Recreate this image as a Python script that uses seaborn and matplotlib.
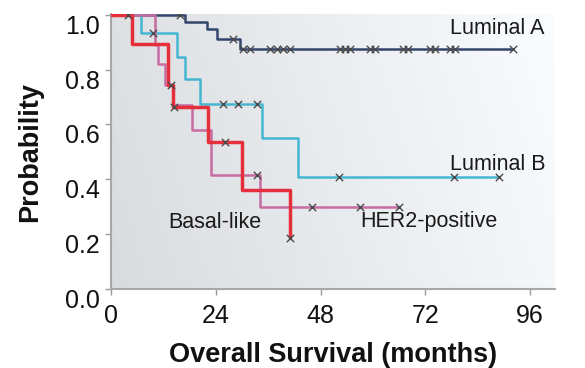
import numpy as np
import pandas as pd
import matplotlib
matplotlib.use("Agg")
import matplotlib.pyplot as plt
import seaborn as sns

# ---- data ----
groups = ["Luminal A", "Luminal B", "HER2-positive", "Basal-like"]

lumA_times = [0, 17.0, 22.0, 24.3, 29.5]
lumA_surv = [1.0, 0.975, 0.95, 0.91, 0.875]
lumA_end = 92.1
lumA_censor = [15.8, 28.0, 30.2, 31.8, 36.4, 38.0, 39.4, 41.0, 52.5, 53.6, 54.8,
               59.3, 60.5, 66.9, 68.0, 73.1, 74.2, 77.7, 78.8, 92.1]

lumB_times = [0, 6.9, 15.1, 17.0, 20.4, 34.6, 42.8]
lumB_surv = [1.0, 0.935, 0.845, 0.767, 0.676, 0.55, 0.407]
lumB_end = 88.9
lumB_censor = [9.6, 25.7, 29.1, 33.4, 52.2, 78.6, 88.9]

her2_times = [0, 10.0, 10.8, 12.4, 14.2, 18.6, 22.9, 34.1]
her2_surv = [1.0, 0.89, 0.82, 0.745, 0.67, 0.58, 0.415, 0.30]
her2_end = 66.0
her2_censor = [33.4, 46.0, 57.0, 66.0]

basal_times = [0, 4.8, 13.1, 14.2, 22.2, 30.0, 41.0]
basal_surv = [1.0, 0.895, 0.745, 0.665, 0.535, 0.36, 0.185]
basal_end = 41.0
basal_censor = [3.9, 13.7, 14.4, 26.1, 41.0]

x_ticks = [0, 24, 48, 72, 96]
y_ticks = [0.0, 0.2, 0.4, 0.6, 0.8, 1.0]
x_label = "Overall Survival (months)"
y_label = "Probability"

# label positions (time, probability) of the curve names
label_pos = {"Luminal A": (77.7, 0.95), "Luminal B": (77.7, 0.455),
             "HER2-positive": (57.0, 0.245), "Basal-like": (13.1, 0.243)}

# ---- styling ----
colors = {"Luminal A": "#33456c", "Luminal B": "#45b6d2",
          "HER2-positive": "#c66ca3", "Basal-like": "#e5303c"}
widths = {"Luminal A": 1.8, "Luminal B": 1.8, "HER2-positive": 1.8, "Basal-like": 2.5}

sns.set_style("ticks")
plt.rcParams["font.family"] = ["Liberation Sans", "DejaVu Sans"]

fig = plt.figure(figsize=(5.85, 3.68), dpi=100)
ax = fig.add_axes([111 / 585, 1 - 289 / 368, (555 - 111) / 585, (289 - 14) / 368])

# background gradient
gx = np.linspace(0, 1, 256)
gy = np.linspace(0, 1, 64)
GX, GY = np.meshgrid(gx, gy)
val = 0.855 + 0.11 * GX + 0.02 * GY
rgb = np.dstack([val - 0.005, val + 0.005, val + 0.015])
rgb = np.clip(rgb, 0, 1)
ax.imshow(rgb, extent=[0, 1, 0, 1], transform=ax.transAxes, aspect="auto",
          origin="lower", zorder=0)

series = {
    "Luminal A": (lumA_times, lumA_surv, lumA_end, lumA_censor),
    "Luminal B": (lumB_times, lumB_surv, lumB_end, lumB_censor),
    "HER2-positive": (her2_times, her2_surv, her2_end, her2_censor),
    "Basal-like": (basal_times, basal_surv, basal_end, basal_censor),
}

for g in groups:
    times, surv, end, cens = series[g]
    df = pd.DataFrame({"t": list(times) + [end], "s": list(surv) + [surv[-1]]})
    sns.lineplot(data=df, x="t", y="s", ax=ax, color=colors[g], lw=widths[g],
                 drawstyle="steps-post", estimator=None, sort=False, zorder=3)
    idx = np.searchsorted(np.array(times), np.array(cens), side="right") - 1
    cdf = pd.DataFrame({"t": cens, "s": np.array(surv)[idx]})
    sns.scatterplot(data=cdf, x="t", y="s", ax=ax, marker="x", s=28,
                    color="#4a4a4a", linewidth=1.0, zorder=4)

for g, (tx, ty) in label_pos.items():
    ax.text(tx, ty, g, fontsize=15.5, color="#1a1a1a", va="center", ha="left", zorder=5)

ax.set_xlim(0, 101.7)
ax.set_ylim(0, 1.003)
ax.set_xticks(x_ticks)
ax.set_yticks(y_ticks)
ax.set_yticklabels([f"{v:.1f}" for v in y_ticks], va="top")
ax.tick_params(axis="both", labelsize=18, colors="#9a9a9a", labelcolor="#111111",
               length=4, width=1.0)
ax.tick_params(axis="x", pad=7)
ax.tick_params(axis="y", pad=4)
ax.set_xlabel(x_label, fontsize=19.5, fontweight="bold", color="#111111", labelpad=10)
ax.set_ylabel(y_label, fontsize=19.5, fontweight="bold", color="#111111", labelpad=16)
for sp in ["top", "right"]:
    ax.spines[sp].set_visible(False)
for sp in ["left", "bottom"]:
    ax.spines[sp].set_color("#a8a8a8")
    ax.spines[sp].set_linewidth(1.5)

fig.savefig("out.png", dpi=100, facecolor="white")
